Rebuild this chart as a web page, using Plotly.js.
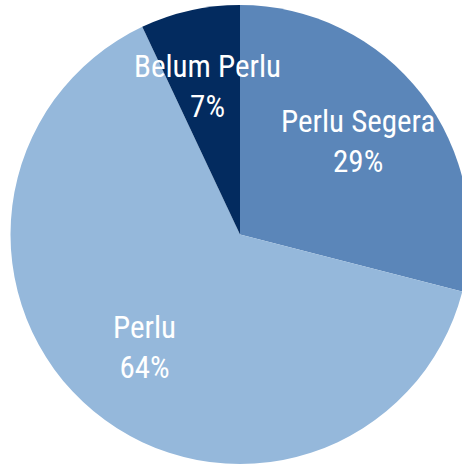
<!DOCTYPE html>
<html>
<head>
<meta charset="utf-8">
<script src="https://cdn.plot.ly/plotly-3.0.1.min.js"></script>
<style>
html,body{margin:0;padding:0;overflow:hidden;background:#fff;}
#chart{width:480px;height:465px;}
</style>
</head>
<body>
<div id="chart"></div>
<script>
var labels = ["Perlu Segera", "Perlu", "Belum Perlu"];
var values = [29, 64, 7];
var colors = ["#5B86B9", "#95B8DB", "#032B5F"];

var W = 480, H = 465, mt = 5, mb = 1;
var plotH = H - mt - mb;
var R = Math.min(W, plotH) / 2;
var total = values.reduce(function(a, b){ return a + b; }, 0);
var labelFont = "Roboto Condensed, Liberation Sans Narrow, DejaVu Sans Condensed, Roboto, sans-serif";

var annotations = [];
var cum = 0;
for (var i = 0; i < values.length; i++) {
  var mid = (cum + values[i] / 2) / total * 2 * Math.PI;
  cum += values[i];
  var d = 0.65 * R;
  var px = Math.sin(mid) * d;
  var py = Math.cos(mid) * d + 2;
  var pct = Math.round(values[i] / total * 100);
  annotations.push({
    xref: "paper", yref: "paper",
    x: 0.5 + px / W, y: 0.5 + py / plotH,
    xanchor: "center", yanchor: "middle",
    text: labels[i] + "<br>" + pct + "%",
    showarrow: false,
    font: {family: labelFont, size: 31, color: "#ffffff"}
  });
}

var trace = {
  type: "pie",
  labels: labels,
  values: values,
  sort: false,
  direction: "clockwise",
  rotation: 0,
  marker: {colors: colors, line: {width: 0}},
  textinfo: "none",
  hoverinfo: "none",
  domain: {x: [0, 1], y: [0, 1]}
};

var layout = {
  width: W, height: H,
  margin: {l: 0, r: 0, t: mt, b: mb, pad: 0},
  showlegend: false,
  paper_bgcolor: "#ffffff",
  annotations: annotations
};

Plotly.newPlot("chart", [trace], layout, {staticPlot: true, displayModeBar: false});
</script>
</body>
</html>
